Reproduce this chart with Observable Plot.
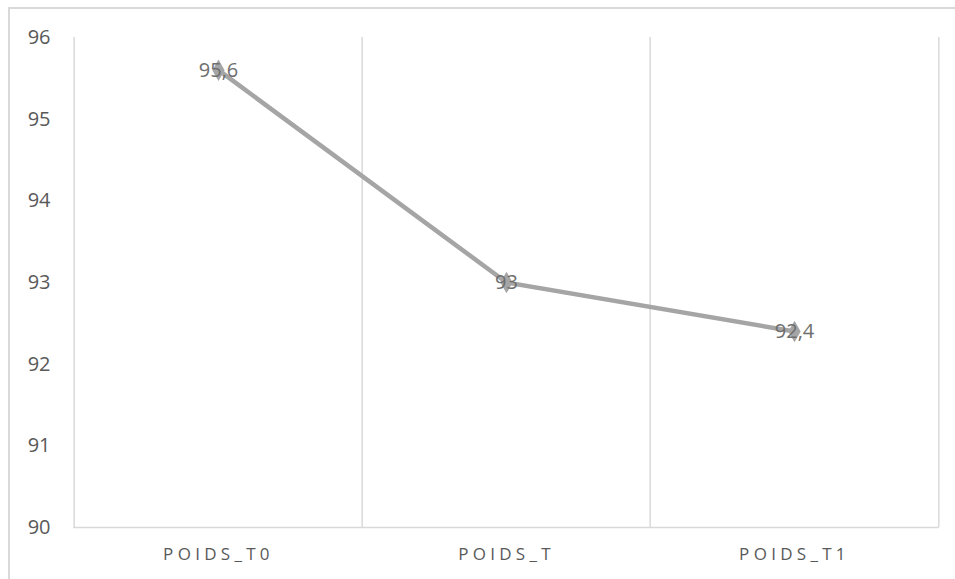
<!DOCTYPE html>
<html>
<head>
<meta charset="utf-8">
<script src="https://cdn.jsdelivr.net/npm/d3@7"></script>
<script src="https://cdn.jsdelivr.net/npm/@observablehq/plot@0.6"></script>
<style>
  html, body { margin: 0; padding: 0; background: #fff; overflow: hidden; width: 955px; height: 579px; }
  #wrap { position: relative; width: 955px; height: 579px; }
  #border { position: absolute; left: 8px; top: 7px; width: 980px; height: 620px; border: 2px solid #D9D9D9; box-sizing: border-box; pointer-events: none; }
  #chart { position: absolute; left: 0; top: 0; }
  #chart svg [aria-label="x-axis tick label"] text { letter-spacing: 4.3px; }
</style>
</head>
<body>
<div id="wrap">
  <div id="border"></div>
  <div id="chart"></div>
</div>
<script>
const categories = ["POIDS_T0", "POIDS_T", "POIDS_T1"];
const values = [95.6, 93, 92.4];
const yTicks = [90, 91, 92, 93, 94, 95, 96];

const data = categories.map((c, i) => ({cat: c, value: values[i]}));

const W = 955, H = 579;
const mL = 73, mR = 16, mT = 37, mB = 52;
const step = (W - mL - mR) / categories.length;
const fmt = v => String(v).replace(".", ",");

const chart = Plot.plot({
  width: W,
  height: H,
  marginLeft: mL,
  marginRight: mR,
  marginTop: mT,
  marginBottom: mB,
  style: {fontFamily: "'Open Sans', sans-serif", background: "transparent"},
  x: {type: "point", domain: categories, padding: 0.5, label: null},
  y: {domain: [90, 96], label: null},
  marks: [
    Plot.ruleX(categories, {x: d => d, dx: -step / 2, stroke: "#D9D9D9", strokeWidth: 1.5}),
    Plot.ruleX(categories.slice(-1), {x: d => d, dx: step / 2, stroke: "#D9D9D9", strokeWidth: 1.5}),
    Plot.ruleY([90], {stroke: "#D9D9D9", strokeWidth: 1.5}),
    Plot.axisY({ticks: yTicks, tickFormat: d => String(d), tickSize: 0, tickPadding: 23, fontSize: 20, fill: "#595959", label: null}),
    Plot.axisX({tickSize: 0, tickPadding: 20, fontSize: 17, fill: "#595959", label: null}),
    Plot.line(data, {x: "cat", y: "value", stroke: "#A5A5A5", strokeWidth: 4.5}),
    Plot.dot(data, {x: "cat", y: "value", symbol: "diamond", r: 6.5, fill: "#A5A5A5"}),
    Plot.text(data, {x: "cat", y: "value", text: d => fmt(d.value), fontSize: 20, fill: "#6E6E6E", textAnchor: "middle", lineAnchor: "middle"})
  ]
});
document.getElementById("chart").appendChild(chart);
</script>
</body>
</html>
